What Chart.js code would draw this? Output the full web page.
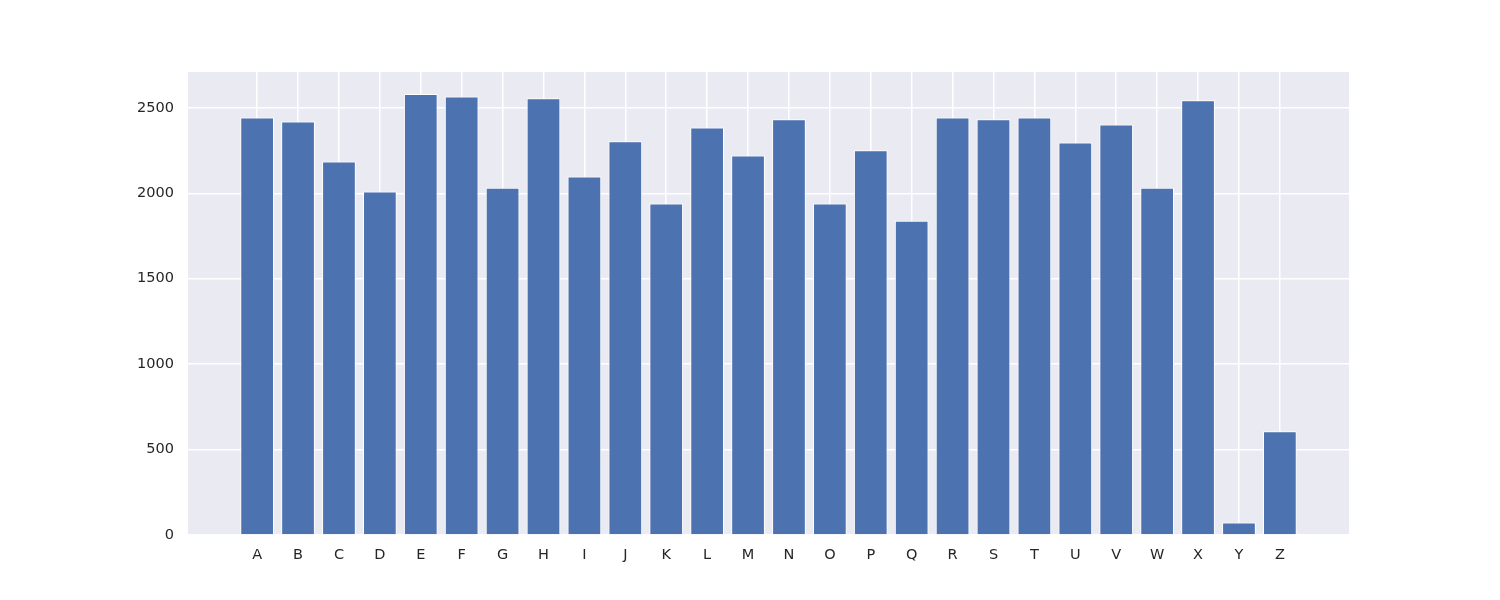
<!DOCTYPE html>
<html>
<head>
<meta charset="utf-8">
<script src="https://cdn.jsdelivr.net/npm/chart.js@4"></script>
<style>
  html, body { margin: 0; padding: 0; background: #ffffff; }
  #wrap { width: 1500px; height: 600px; }
</style>
</head>
<body>
<div id="wrap"><canvas id="barChart" width="1500" height="600"></canvas></div>
<script>
const categories = ["A", "B", "C", "D", "E", "F", "G", "H", "I", "J", "K", "L", "M",
    "N", "O", "P", "Q", "R", "S", "T", "U", "V", "W", "X", "Y", "Z"];
const counts = [2444, 2421, 2186, 2010, 2581, 2567, 2033, 2556, 2098, 2305, 1940, 2385, 2221,
    2433, 1940, 2252, 1840, 2444, 2433, 2444, 2297, 2403, 2033, 2544, 73, 607];
const yTicks = [0, 500, 1000, 1500, 2000, 2500];

(function renderBarChart() {
    const canvas = document.getElementById("barChart");
    if (!canvas || typeof Chart === "undefined") {
        return;
    }

    const plotBackground = {
        id: "plotBackground",
        beforeDraw(chart) {
            const area = chart.chartArea;
            const ctx = chart.ctx;
            ctx.save();
            ctx.fillStyle = "#EAEAF2";
            ctx.fillRect(area.left, area.top, area.right - area.left, area.bottom - area.top);
            ctx.restore();
        },
    };

    const tickFont = { family: "DejaVu Sans", size: 14.5 };

    new Chart(canvas.getContext("2d"), {
        type: "bar",
        data: {
            datasets: [
                {
                    data: counts.map((v, i) => ({ x: i, y: v })),
                    backgroundColor: "#4C72B0",
                    borderColor: "#ffffff",
                    borderWidth: 1,
                    borderSkipped: "bottom",
                    barPercentage: 0.824,
                    categoryPercentage: 1.0,
                },
            ],
        },
        options: {
            responsive: false,
            animation: false,
            events: [],
            layout: {
                padding: { left: 128, right: 151, top: 72, bottom: 25 },
            },
            plugins: {
                legend: { display: false },
                tooltip: { enabled: false },
            },
            scales: {
                x: {
                    type: "linear",
                    min: -1.69,
                    max: 26.69,
                    offset: false,
                    border: { display: false },
                    grid: { color: "#ffffff", lineWidth: 1.5, drawTicks: false, offset: false },
                    afterBuildTicks: (scale) => {
                        scale.ticks = categories.map((_, i) => ({ value: i }));
                    },
                    afterFit: (scale) => { scale.height = 40; },
                    ticks: {
                        autoSkip: false,
                        maxRotation: 0,
                        padding: 12,
                        color: "#262626",
                        font: tickFont,
                        callback: (value) => categories[value],
                    },
                },
                y: {
                    min: 0,
                    max: 2710,
                    border: { display: false },
                    grid: { color: "#ffffff", lineWidth: 1.5, drawTicks: false },
                    afterBuildTicks: (scale) => {
                        scale.ticks = yTicks.map((v) => ({ value: v }));
                    },
                    afterFit: (scale) => { scale.width = 60; },
                    ticks: {
                        padding: 14,
                        color: "#262626",
                        font: tickFont,
                        callback: (value) => String(value),
                    },
                },
            },
        },
        plugins: [plotBackground],
    });
})();
</script>
</body>
</html>
